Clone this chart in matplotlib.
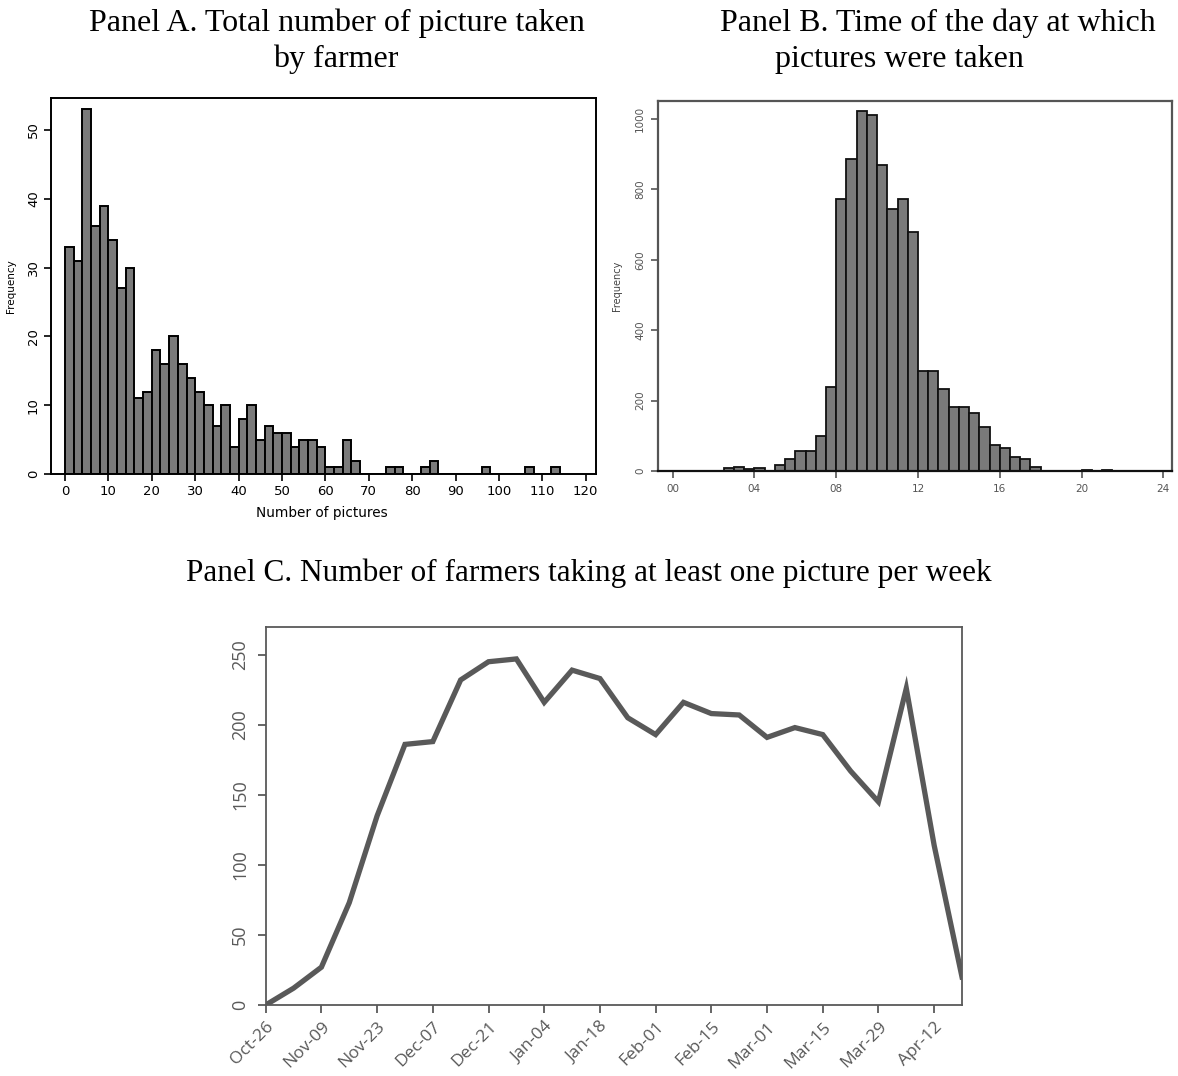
import matplotlib
matplotlib.use("Agg")
import matplotlib.pyplot as plt
import numpy as np

# ---------------- data ----------------
# Panel A: histogram of pictures per farmer (bin width 2, starting at 0)
a_bin_starts = list(range(0, 114, 2))
a_counts = [33, 31, 53, 36, 39, 34, 27, 30, 11, 12,
            18, 16, 20, 16, 14, 12, 10, 7, 10, 4,
            8, 10, 5, 7, 6, 6, 4, 5, 5, 4,
            1, 1, 5, 2, 0, 0, 0, 1, 1, 0,
            0, 1, 2, 0, 0, 0, 0, 0, 1, 0,
            0, 0, 0, 1, 0, 0, 1]
a_xticks = list(range(0, 130, 10))
a_yticks = [0, 10, 20, 30, 40, 50]

# Panel B: time of day (half-hour bins starting at 00:00)
b_bin_starts = [h / 2 for h in range(48)]
b_counts = [0, 0, 0, 0, 0, 8, 12, 5, 9, 0,
            17, 34, 58, 58, 99, 240, 773, 886, 1023, 1011,
            869, 743, 773, 680, 285, 285, 233, 181, 181, 166,
            126, 74, 64, 41, 33, 11, 0, 0, 0, 0,
            4, 0, 4, 0, 0, 0, 0, 0]
b_xticks = [0, 4, 8, 12, 16, 20, 24]
b_xticklabels = ["00", "04", "08", "12", "16", "20", "24"]
b_yticks = [0, 200, 400, 600, 800, 1000]

# Panel C: farmers taking at least one picture per week
c_weeks = ["Oct-26", "Nov-02", "Nov-09", "Nov-16", "Nov-23", "Nov-30", "Dec-07",
           "Dec-14", "Dec-21", "Dec-28", "Jan-04", "Jan-11", "Jan-18", "Jan-25",
           "Feb-01", "Feb-08", "Feb-15", "Feb-22", "Mar-01", "Mar-08", "Mar-15",
           "Mar-22", "Mar-29", "Apr-05", "Apr-12", "Apr-19"]
c_values = [0, 12, 27, 73, 135, 186, 188, 232, 245, 247, 216, 239, 233, 205,
            193, 216, 208, 207, 191, 198, 193, 167, 145, 226, 114, 20]
c_yticks = [0, 50, 100, 150, 200, 250]

# ---------------- figure ----------------
W, H = 1178, 1076
fig = plt.figure(figsize=(W / 100, H / 100), dpi=100)

def rect(l, r, t, b):
    return [l / W, 1 - b / H, (r - l) / W, (b - t) / H]

title_font = dict(family="Liberation Serif", color="black")

# Titles
fig.text(336.5 / W, 1 - 23 / H, "Panel A. Total number of picture taken",
         ha="center", va="center", fontsize=23, **title_font)
fig.text(336 / W, 1 - 59 / H, "by farmer",
         ha="center", va="center", fontsize=23, **title_font)
fig.text(938 / W, 1 - 23 / H, "Panel B. Time of the day at which",
         ha="center", va="center", fontsize=23, **title_font)
fig.text(899 / W, 1 - 59 / H, "pictures were taken",
         ha="center", va="center", fontsize=23, **title_font)
fig.text(589 / W, 1 - 573 / H,
         "Panel C. Number of farmers taking at least one picture per week",
         ha="center", va="center", fontsize=22.5, **title_font)

bar_face = "#7a7a7a"

# ---------------- Panel A ----------------
axA = fig.add_axes(rect(51, 595.7, 98, 474.3))
axA.bar(a_bin_starts, a_counts, width=2, align="edge",
        color=bar_face, edgecolor="black", linewidth=1.4)
axA.set_xlim(-3.23, 122.3)
axA.set_ylim(0, 54.6)
axA.set_xticks(a_xticks)
axA.set_yticks(a_yticks)
axA.set_yticklabels([str(v) for v in a_yticks], rotation=90, va="center")
axA.tick_params(axis="both", direction="out", length=5, width=1.2,
                labelsize=9.5, colors="black", pad=3)
for lab in axA.get_xticklabels() + axA.get_yticklabels():
    lab.set_family("DejaVu Sans")
for sp in axA.spines.values():
    sp.set_linewidth(1.4)
    sp.set_color("black")
axA.set_xlabel("Number of pictures", fontsize=9.8, labelpad=1,
               family="DejaVu Sans")
axA.xaxis.set_label_coords((322 - 51) / (595.7 - 51), -0.085)
axA.set_ylabel("Frequency", fontsize=7.5, labelpad=2, family="DejaVu Sans")
axA.yaxis.set_label_coords(-0.065, 0.5)

# ---------------- Panel B ----------------
axB = fig.add_axes(rect(657.7, 1172.3, 100.7, 471))
axB.bar(b_bin_starts, b_counts, width=0.5, align="edge",
        color=bar_face, edgecolor="#111111", linewidth=1.3)
axB.set_xlim(-0.73, 24.44)
axB.set_ylim(0, 1052)
axB.set_xticks(b_xticks)
axB.set_xticklabels(b_xticklabels)
axB.set_yticks(b_yticks)
axB.set_yticklabels([str(v) for v in b_yticks], rotation=90, va="center")
axB.tick_params(axis="both", direction="out", length=5, width=1.2,
                labelsize=7.5, colors="#555555", pad=4)
for sp in axB.spines.values():
    sp.set_linewidth(1.6)
    sp.set_color("#555555")
axB.spines["bottom"].set_color("#111111")
axB.set_ylabel("Frequency", fontsize=7, labelpad=2, color="#444444")
axB.yaxis.set_label_coords(-0.07, 0.5)

# ---------------- Panel C ----------------
axC = fig.add_axes(rect(265.7, 962, 626.7, 1005))
x = np.arange(len(c_weeks))
axC.plot(x, c_values, color="#595959", linewidth=3.8, solid_joinstyle="miter")
axC.set_xlim(0, len(c_weeks) - 1)
axC.set_ylim(0, 270)
axC.set_xticks(x[::2])
axC.set_xticklabels(c_weeks[::2], rotation=45, ha="right",
                    rotation_mode="anchor")
axC.set_yticks(c_yticks)
axC.set_yticklabels([str(v) for v in c_yticks], rotation=90, va="center")
axC.tick_params(axis="x", direction="out", length=6, width=1.3,
                labelsize=12.5, colors="#595959", labelcolor="#595959", pad=4)
axC.tick_params(axis="y", direction="out", length=6, width=1.3,
                labelsize=13, colors="#595959", labelcolor="#595959", pad=6)
for lab in axC.get_xticklabels() + axC.get_yticklabels():
    lab.set_family("Open Sans")
for sp in axC.spines.values():
    sp.set_linewidth(1.3)
    sp.set_color("#595959")

fig.savefig("out.png", dpi=100)
